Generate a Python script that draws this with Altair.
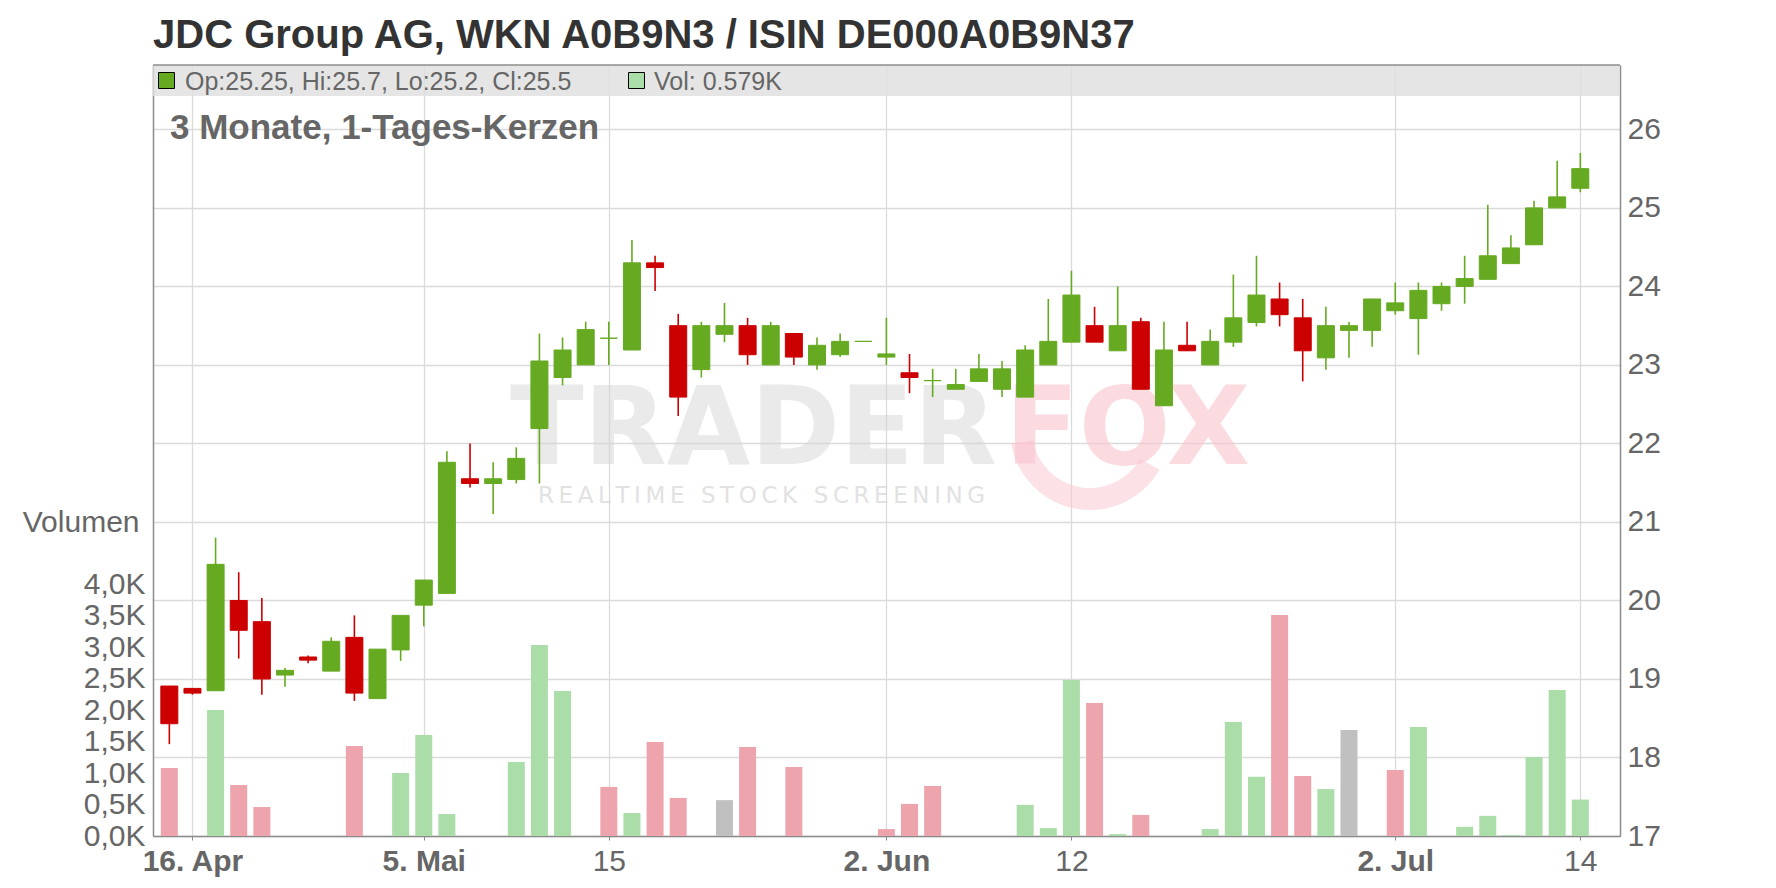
import altair as alt
import pandas as pd

# ---------------- data ----------------
days = ["15.04", "16.04", "17.04", "22.04", "23.04", "24.04", "25.04", "28.04", "29.04", "30.04",
        "02.05", "05.05", "06.05", "07.05", "08.05", "09.05", "12.05", "13.05", "14.05", "15.05",
        "16.05", "19.05", "20.05", "21.05", "22.05", "23.05", "26.05", "27.05", "28.05", "29.05",
        "30.05", "02.06", "03.06", "04.06", "05.06", "06.06", "09.06", "10.06", "11.06", "12.06",
        "13.06", "16.06", "17.06", "18.06", "19.06", "20.06", "23.06", "24.06", "25.06", "26.06",
        "27.06", "30.06", "01.07", "02.07", "03.07", "04.07", "07.07", "08.07", "09.07", "10.07",
        "11.07", "14.07"]

opens = [18.91, 18.88, 18.85, 20.00, 19.73, 19.05, 19.28, 19.10, 19.53, 18.75,
         19.37, 19.94, 20.09, 21.55, 21.49, 21.54, 22.19, 22.84, 23.00, 23.34,
         23.19, 24.30, 23.50, 22.94, 23.39, 23.50, 23.00, 23.40, 23.00, 23.13,
         23.30, 23.10, 22.90, 22.80, 22.69, 22.79, 22.69, 22.59, 23.00, 23.29,
         23.50, 23.18, 23.55, 22.48, 23.25, 23.00, 23.29, 23.54, 23.84, 23.60,
         23.09, 23.44, 23.44, 23.69, 23.59, 23.78, 24.00, 24.09, 24.29, 24.53,
         25.00, 25.25]
highs = [18.91, 18.88, 20.80, 20.36, 20.03, 19.14, 19.30, 19.53, 19.81, 19.38,
         19.81, 20.26, 21.90, 22.00, 21.76, 21.95, 23.40, 23.35, 23.55, 23.55,
         24.59, 24.39, 23.65, 23.55, 23.79, 23.60, 23.55, 23.40, 23.35, 23.40,
         23.30, 23.60, 23.14, 22.95, 22.95, 23.14, 23.05, 23.25, 23.84, 24.20,
         23.74, 24.00, 23.60, 23.55, 23.55, 23.45, 24.15, 24.39, 24.05, 23.84,
         23.74, 23.55, 23.84, 24.05, 24.05, 24.05, 24.39, 25.04, 24.65, 25.09,
         25.60, 25.7]
lows = [18.17, 18.80, 18.85, 19.26, 18.80, 18.90, 19.20, 19.10, 18.72, 18.75,
        19.23, 19.67, 20.09, 21.44, 21.10, 21.49, 21.49, 22.74, 23.00, 23.00,
        23.19, 23.94, 22.35, 22.84, 23.29, 23.00, 23.00, 23.00, 22.94, 23.10,
        23.30, 23.00, 22.64, 22.59, 22.69, 22.79, 22.59, 22.59, 23.00, 23.29,
        23.29, 23.18, 22.69, 22.48, 23.18, 23.00, 23.23, 23.49, 23.49, 22.79,
        22.94, 23.09, 23.23, 23.64, 23.13, 23.69, 23.78, 24.09, 24.29, 24.53,
        25.00, 25.2]
closes = [18.43, 18.82, 20.46, 19.62, 19.00, 19.11, 19.24, 19.48, 18.82, 19.38,
          19.81, 20.26, 21.76, 21.49, 21.55, 21.81, 23.05, 23.19, 23.45, 23.34,
          24.30, 24.24, 22.59, 23.50, 23.50, 23.13, 23.50, 23.10, 23.25, 23.30,
          23.30, 23.14, 22.84, 22.80, 22.75, 22.95, 22.95, 23.19, 23.30, 23.89,
          23.29, 23.50, 22.69, 23.19, 23.18, 23.30, 23.60, 23.89, 23.64, 23.18,
          23.50, 23.50, 23.84, 23.79, 23.95, 24.00, 24.10, 24.39, 24.49, 25.00,
          25.14, 25.5]
volumes = [1080, 0, 2000, 810, 460, 0, 0, 0, 1430, 0,
           1000, 1605, 350, 0, 0, 1175, 3035, 2305, 0, 780,
           365, 1495, 605, 0, 570, 1415, 0, 1095, 0, 0,
           0, 110, 510, 795, 0, 0, 0, 495, 125, 2480,
           2115, 30, 335, 0, 0, 110, 1810, 940, 3510, 955,
           745, 1685, 0, 1050, 1730, 0, 145, 320, 15, 1255,
           2320, 579]
vol_trend = ["down", "flat", "up", "down", "down", "flat", "flat", "flat", "down", "flat",
             "up", "up", "up", "flat", "flat", "up", "up", "up", "flat", "down",
             "up", "down", "down", "flat", "flat", "down", "flat", "down", "flat", "flat",
             "flat", "down", "down", "down", "flat", "flat", "flat", "up", "up", "up",
             "down", "up", "down", "flat", "flat", "up", "up", "up", "down", "down",
             "up", "flat", "flat", "down", "up", "flat", "up", "up", "up", "up",
             "up", "up"]

tick_days = ["16.04", "05.05", "15.05", "02.06", "12.06", "02.07", "14.07"]
tick_labels = ["16. Apr", "5. Mai", "15", "2. Jun", "12", "2. Jul", "14"]
bold_labels = ["16. Apr", "5. Mai", "2. Jun", "2. Jul"]
price_ticks = [17, 18, 19, 20, 21, 22, 23, 24, 25, 26]
volume_ticks = [0, 500, 1000, 1500, 2000, 2500, 3000, 3500, 4000]

title = "JDC Group AG, WKN A0B9N3 / ISIN DE000A0B9N37"
subtitle = "3 Monate, 1-Tages-Kerzen"

# ---------------- build ----------------
df = pd.DataFrame({
    "slot": list(range(len(days))),
    "day": days,
    "open": opens, "high": highs, "low": lows, "close": closes,
    "volume": volumes, "vdir": vol_trend,
})
df["dir"] = ["up" if c >= o else "down" for o, c in zip(opens, closes)]

W, H = 1467, 771
FONT = "Liberation Sans"
GRAY = "#666666"
GREEN, RED = "#66AA22", "#CC0000"

tick_slots = [days.index(d) for d in tick_days]
label_expr = "''"
for s, l in reversed(list(zip(tick_slots, tick_labels))):
    label_expr = f"datum.value == {s} ? '{l}' : ({label_expr})"
bold_slots = [s for s, l in zip(tick_slots, tick_labels) if l in bold_labels]

x_enc = alt.X(
    "slot:Q",
    scale=alt.Scale(domain=[-0.49, 62.5], nice=False, zero=False),
    axis=alt.Axis(
        values=tick_slots, labelExpr=label_expr, title=None, labelFlush=False,
        grid=True, gridColor="#DADADA", gridWidth=1.3,
        domainColor="#8C8C8C", domainWidth=1.5,
        tickColor="#8C8C8C", tickSize=4, labelPadding=6,
        labelFont=FONT, labelFontSize=30, labelColor=GRAY,
        labelFontWeight={"condition": {"test": f"indexof({bold_slots}, datum.value) >= 0",
                                        "value": "bold"}, "value": "normal"},
    ),
)

price_scale = alt.Scale(domain=[17, 26.82], nice=False, zero=False)
dir_scale = alt.Scale(domain=["up", "down"], range=[GREEN, RED])

wicks = alt.Chart(df).mark_rule(strokeWidth=1.6).encode(
    x=x_enc,
    y=alt.Y("low:Q", scale=price_scale, axis=alt.Axis(
        orient="right", values=price_ticks, format="d", title=None, grid=True,
        gridColor="#DADADA", gridWidth=1.3, domainColor="#8C8C8C", domainWidth=1.5,
        ticks=False, labelPadding=7, labelFont=FONT, labelFontSize=30, labelColor=GRAY)),
    y2="high:Q",
    color=alt.Color("dir:N", scale=dir_scale, legend=None),
)
bodies = alt.Chart(df).mark_bar(size=17, strokeWidth=1).encode(
    x="slot:Q",
    y=alt.Y("open:Q", scale=price_scale),
    y2="close:Q",
    color=alt.Color("dir:N", scale=dir_scale, legend=None),
    stroke=alt.Stroke("dir:N", scale=dir_scale, legend=None),
)
price = alt.layer(wicks, bodies)

volume = alt.Chart(df).mark_bar(size=17).encode(
    x="slot:Q",
    y=alt.Y("volume:Q", scale=alt.Scale(domain=[0, 12250], nice=False), axis=alt.Axis(
        orient="left", values=volume_ticks,
        labelExpr="replace(format(datum.value/1000, '.1f'), '.', ',') + 'K'",
        grid=False, ticks=False, labelPadding=8, domainColor="#8C8C8C", domainWidth=1.5,
        labelFont=FONT, labelFontSize=30, labelColor=GRAY,
        title="Volumen", titleAngle=0, titleX=-14, titleY=457, titleAlign="right",
        titleBaseline="middle", titleFont=FONT, titleFontSize=30,
        titleFontWeight="normal", titleColor=GRAY)),
    fill=alt.Fill("vdir:N", scale=alt.Scale(domain=["up", "down", "flat"],
                                             range=["#ABDDA8", "#EDA4AD", "#C0C0C0"]),
                  legend=None),
)

one = pd.DataFrame({"k": [0]})

# watermark
wm_trader = alt.Chart(one).mark_text(text="TRADER", font="DejaVu Sans", fontWeight="bold",
                                     fontSize=108, align="left", baseline="alphabetic",
                                     color="#D6D6D6", opacity=0.5).encode(
    x=alt.value(357), y=alt.value(399))
wm_fox = alt.Chart(one).mark_text(text="FOX", font="DejaVu Sans", fontWeight="bold",
                                  fontSize=108, align="left", baseline="alphabetic",
                                  color="#FAC3CD", opacity=0.6).encode(
    x=alt.value(852), y=alt.value(399))
wm_swoosh = alt.Chart(one).mark_arc(radius=80, radius2=58, theta=2.09, theta2=4.54,
                                    color="#FAC3CD", opacity=0.5).encode(
    x=alt.value(937), y=alt.value(365))
thin = "\u2009"
wm_sub_text = (thin + " " + thin).join(thin.join(w) for w in "REALTIME STOCK SCREENING".split())
wm_sub = alt.Chart(one).mark_text(text=wm_sub_text, font="DejaVu Sans", fontSize=23,
                                  align="left", baseline="alphabetic",
                                  color="#D6D6D6", opacity=0.7).encode(
    x=alt.value(385), y=alt.value(438))

# legend band on top of the plot
band = alt.Chart(one).mark_rect(fill="#DEDEDE", fillOpacity=0.8).encode(
    x=alt.value(0), x2=alt.value(W), y=alt.value(0), y2=alt.value(31))
band_top = alt.Chart(one).mark_rule(color="#8C8C8C", strokeWidth=1.5).encode(
    x=alt.value(0), x2=alt.value(W), y=alt.value(0))
sq1 = alt.Chart(one).mark_rect(fill=GREEN, stroke="#000000", strokeWidth=1).encode(
    x=alt.value(5.5), x2=alt.value(21.5), y=alt.value(7.5), y2=alt.value(23.5))
sq2 = alt.Chart(one).mark_rect(fill="#ABDDA8", stroke="#000000", strokeWidth=1).encode(
    x=alt.value(475.5), x2=alt.value(491.5), y=alt.value(7.5), y2=alt.value(23.5))
ohlc_text = f"Op:{opens[-1]}, Hi:{highs[-1]}, Lo:{lows[-1]}, Cl:{closes[-1]}"
vol_text = f"Vol: {volumes[-1] / 1000:.3f}K"
t1 = alt.Chart(one).mark_text(text=ohlc_text, font=FONT, fontSize=25, color=GRAY,
                              align="left", baseline="alphabetic").encode(
    x=alt.value(32), y=alt.value(25))
t2 = alt.Chart(one).mark_text(text=vol_text, font=FONT, fontSize=25, color=GRAY,
                              align="left", baseline="alphabetic").encode(
    x=alt.value(501), y=alt.value(25))
sub = alt.Chart(one).mark_text(text=subtitle, font=FONT, fontSize=35, fontWeight="bold",
                               color=GRAY, align="left", baseline="alphabetic").encode(
    x=alt.value(17), y=alt.value(74))
ttl = alt.Chart(one).mark_text(text=title, font=FONT, fontSize=40, fontWeight="bold",
                               color="#333333", align="left", baseline="alphabetic").encode(
    x=alt.value(0), y=alt.value(-17))

chart = alt.layer(
    wm_trader, wm_fox, wm_swoosh, wm_sub, band, volume, price, band_top, sq1, sq2, t1, t2,
    sub, ttl
).resolve_scale(y="independent", color="independent", fill="independent",
                stroke="independent").properties(
    width=W, height=H,
    padding={"left": 145, "top": 57, "right": 148, "bottom": 44},
    autosize=alt.AutoSizeParams(type="none"),
).configure_view(stroke=None)

chart.save("out.html", embed_options={"renderer": "svg", "actions": False})
